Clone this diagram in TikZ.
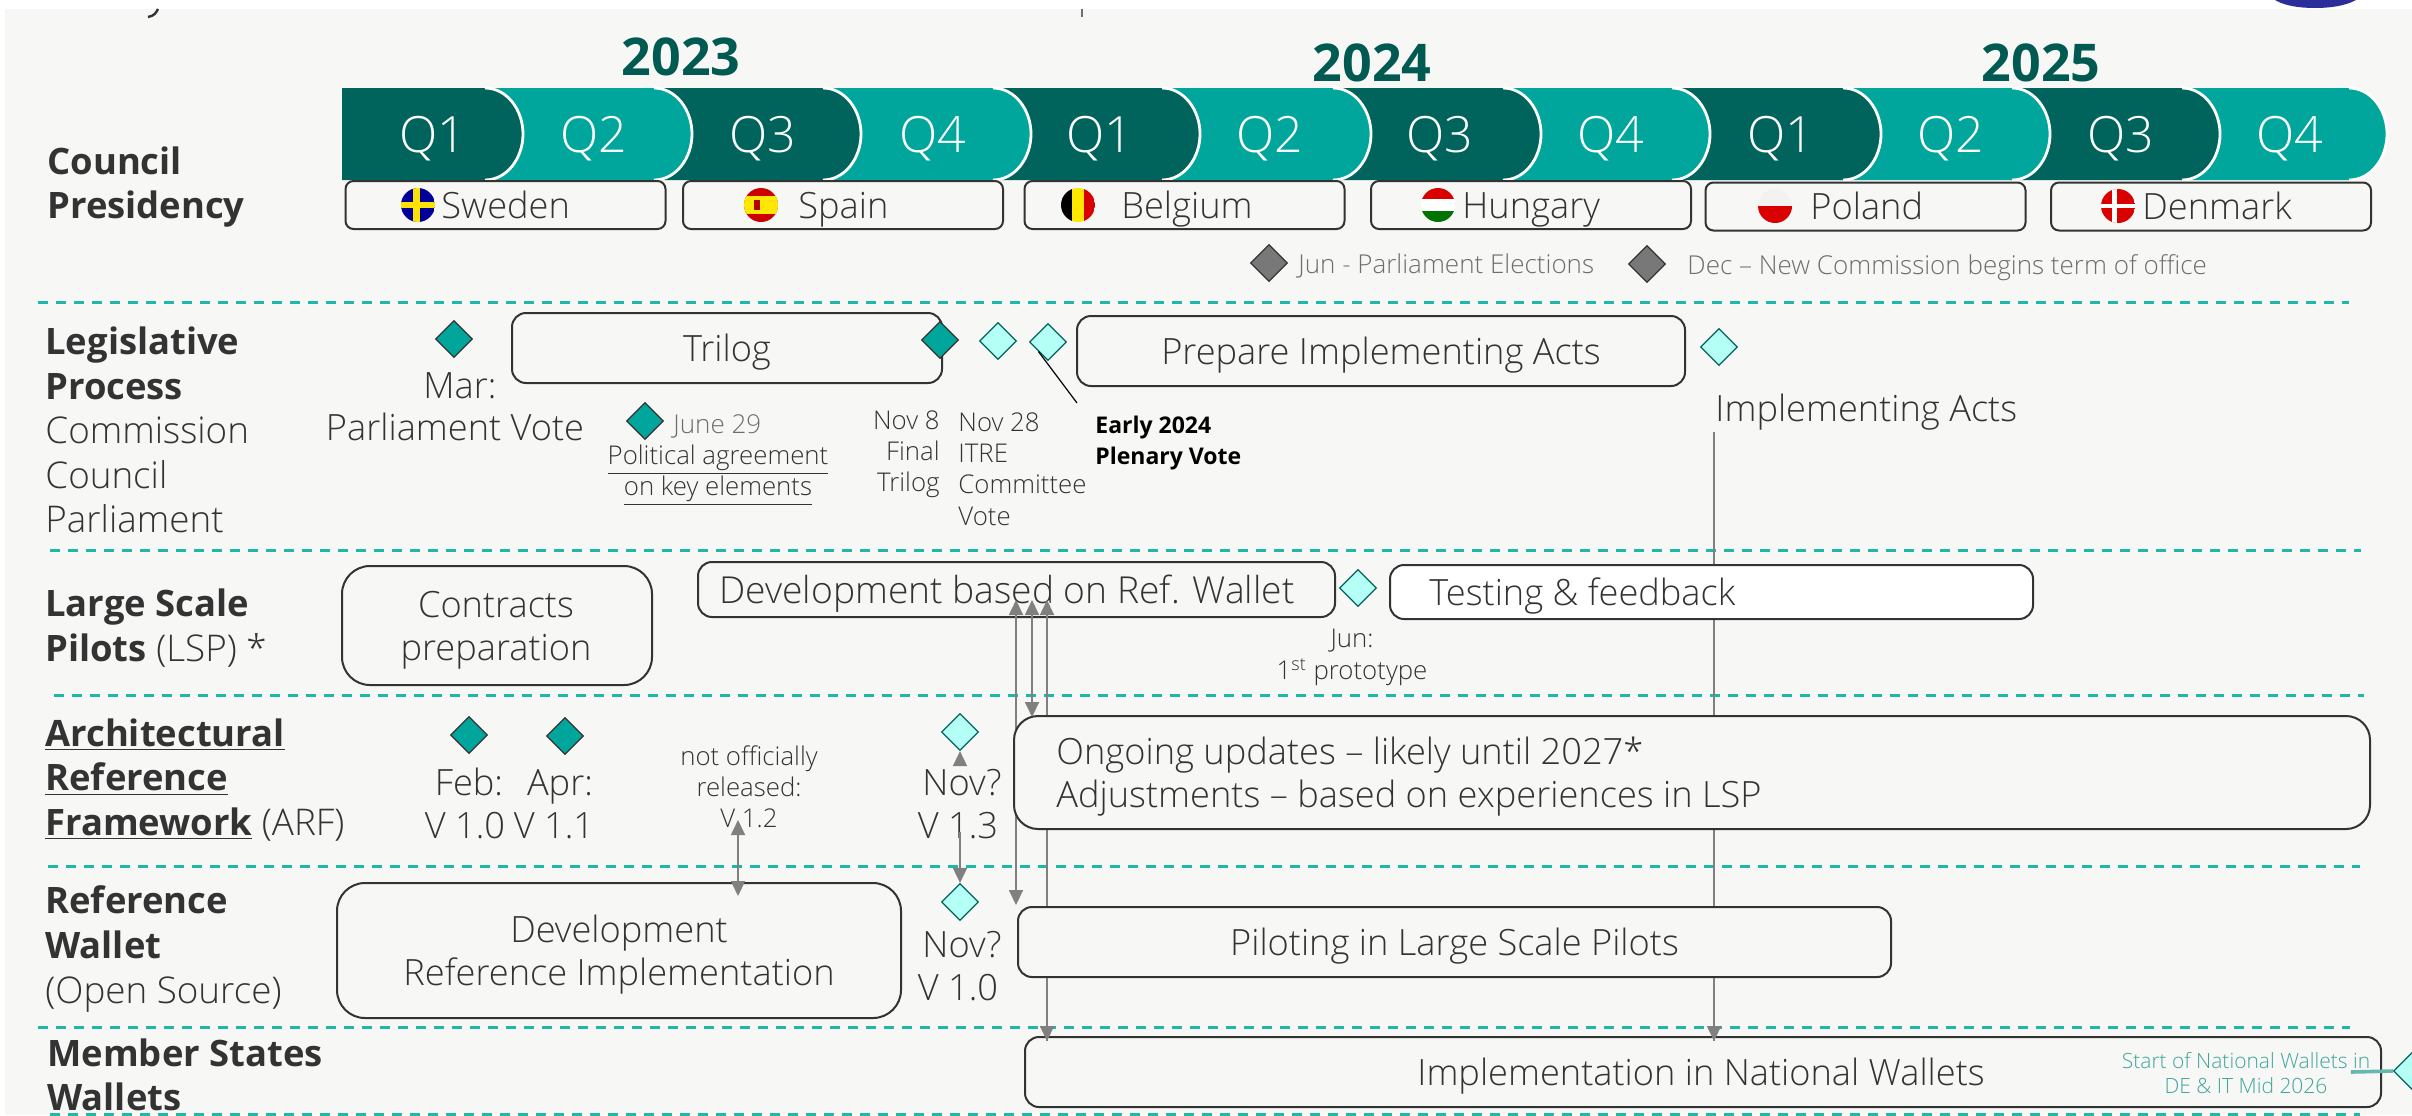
\documentclass[tikz,border=0pt]{standalone}
\usepackage{fontspec}
\setmainfont{Open Sans}
\newfontfamily\lightfont{Open Sans Light}
\usetikzlibrary{arrows.meta}
\usetikzlibrary{shapes.geometric}
\definecolor{pagebg}{HTML}{F7F7F5}
\definecolor{darkteal}{HTML}{00645C}
\definecolor{midteal}{HTML}{00A69C}
\definecolor{yearteal}{HTML}{005A52}
\definecolor{dashteal}{HTML}{1FB8A8}
\definecolor{paleteal}{HTML}{B4FFF6}
\definecolor{inkgray}{HTML}{333333}
\definecolor{softgray}{HTML}{6E6E6E}
\definecolor{markgray}{HTML}{787878}
\definecolor{linegray}{HTML}{808080}
\definecolor{notegreen}{HTML}{3FA69B}
\definecolor{logoblue}{HTML}{2B2E9A}
\newcommand{\rowlight}[1]{{\lightfont\fontsize{18.4}{22.3}\selectfont #1}}
\tikzset{
  rowlabel/.style={anchor=west,align=left,inner sep=0pt,text=inkgray,font=\fontsize{18.2}{22.3}\selectfont},
  bigtext/.style={inner sep=0pt,text=inkgray,text height=13pt,text depth=0pt,font=\lightfont\fontsize{18.1}{22}\selectfont},
  twolines/.style={inner sep=0pt,text=inkgray,align=center,font=\lightfont\fontsize{18.1}{21.5}\selectfont},
  smalltext/.style={inner sep=0pt,text=inkgray,align=center,font=\lightfont\fontsize{12.9}{15.6}\selectfont},
  softtext/.style={inner sep=0pt,text=softgray,text height=9.2pt,text depth=0pt,font=\lightfont\fontsize{13}{15.5}\selectfont},
  yearlabel/.style={inner sep=0pt,text=yearteal,font=\bfseries\fontsize{26}{30}\selectfont},
  quarter/.style={inner sep=0pt,text=white,text height=18.5pt,text depth=0pt,font=\lightfont\fontsize{25}{30}\selectfont},
  box/.style={draw=inkgray,line width=1pt,fill=pagebg,rounded corners=7pt,inner sep=0pt,align=center,text=inkgray,text height=13pt,text depth=0pt,font=\lightfont\fontsize{18.1}{22}\selectfont},
  countrybox/.style={box,rounded corners=4pt,minimum width=160pt,minimum height=24pt},
  milestone/.style={diamond,aspect=1,draw=inkgray,line width=.6pt,fill=midteal,inner sep=0pt,minimum width=18.5pt,minimum height=18.5pt},
  openmilestone/.style={milestone,fill=paleteal,draw=darkteal},
  graymilestone/.style={milestone,fill=markgray,draw=inkgray},
  sectionline/.style={draw=dashteal,line width=1.5pt,dash pattern=on 5pt off 4pt},
  grayarrow/.style={draw=linegray,line width=.9pt,-{Triangle[length=7.5pt,width=7pt]}},
  grayboth/.style={draw=linegray,line width=.9pt,{Triangle[length=7.5pt,width=7pt]}-{Triangle[length=7.5pt,width=7pt]}},
}
\begin{document}
\begin{tikzpicture}[x=.5pt,y=-.5pt]
  \useasboundingbox (0,0) rectangle (2412,1115);
  \fill[pagebg] (5,9) rectangle (2412,1115);
  \fill[white] (0,0) rectangle (2412,9);
  \fill[logoblue] (2275,0) .. controls (2285,6) and (2300,8) .. (2315,8) .. controls (2330,8) and (2345,6) .. (2356,0) -- cycle;
  \draw[inkgray,line width=1.2pt] (158,9) .. controls (156,13) and (154,16) .. (148,17);
  \draw[softgray,line width=1pt] (1082,9) -- (1082,17);

  \foreach \xl/\xr/\qtext/\qx/\qcol [count=\i] in {2180/2387/Q4/2290/midteal,2010/2220/Q3/2121/darkteal,1840/2050/Q2/1951/midteal,1670/1881/Q1/1781/darkteal,1500/1710/Q4/1611/midteal,1330/1541/Q3/1440/darkteal,1160/1371/Q2/1270/midteal,990/1200/Q1/1100/darkteal,820/1031/Q4/933/midteal,650/861/Q3/763/darkteal,480/692/Q2/594/midteal,342/523/Q1/433/darkteal} {
    \fill[\qcol] (\xl,88) -- ({\xr-38},88) .. controls ({\xr-16},88) and (\xr,110) .. (\xr,134) .. controls (\xr,158) and ({\xr-16},180) .. ({\xr-38},180) -- (\xl,180) -- cycle;
    \draw[white,line width=1.4pt] ({\xr-38},88) .. controls ({\xr-16},88) and (\xr,110) .. (\xr,134) .. controls (\xr,158) and ({\xr-16},180) .. ({\xr-38},180);
    \node[quarter] (q\i) at (\qx,134) {\qtext};
  }
  \node[yearlabel] (y2023) at (681,57) {2023};
  \node[yearlabel] (y2024) at (1372,63) {2024};
  \node[yearlabel] (y2025) at (2041,63) {2025};

  \node[countrybox] (sweden) at (505.5,205) {};
  \node[countrybox] (spain) at (843,205) {};
  \node[countrybox] (belgium) at (1184.5,205) {};
  \node[countrybox] (hungary) at (1531,205) {};
  \node[countrybox] (poland) at (1865.5,206.5) {};
  \node[countrybox] (denmark) at (2211,206.5) {};
  \begin{scope}[shift={(418,205)}]
    \clip (0,0) circle (17);
    \fill[blue!60!black] (-17,-17) rectangle (17,17);
    \fill[yellow!85!orange] (-5,-17) rectangle (2,17);
    \fill[yellow!85!orange] (-17,-3) rectangle (17,3);
  \end{scope}
  \begin{scope}[shift={(761,205)}]
    \clip (0,0) circle (17);
    \fill[red!80!black] (-17,-17) rectangle (17,17);
    \fill[yellow!90!orange] (-17,-9) rectangle (17,9);
    \fill[red!70!black] (-7,-5) rectangle (-1,5);
  \end{scope}
  \begin{scope}[shift={(1078,205)}]
    \clip (0,0) circle (17);
    \fill[black] (-17,-17) rectangle (-6,17);
    \fill[yellow!90!orange] (-6,-17) rectangle (6,17);
    \fill[red!85!black] (6,-17) rectangle (17,17);
  \end{scope}
  \begin{scope}[shift={(1438,205)}]
    \clip (0,0) circle (17);
    \fill[red!85!black] (-17,-17) rectangle (17,-6);
    \fill[white] (-17,-6) rectangle (17,6);
    \fill[green!45!black] (-17,6) rectangle (17,17);
  \end{scope}
  \begin{scope}[shift={(1775,206)}]
    \clip (0,0) circle (17);
    \fill[gray!10] (-17,-17) rectangle (17,0);
    \fill[red!85!black] (-17,0) rectangle (17,17);
  \end{scope}
  \begin{scope}[shift={(2118,206)}]
    \clip (0,0) circle (17);
    \fill[red!85!black] (-17,-17) rectangle (17,17);
    \fill[white] (-6,-17) rectangle (-1,17);
    \fill[white] (-17,-2) rectangle (17,2);
  \end{scope}
  \node[bigtext,anchor=west] (swedentext) at (441,205) {Sweden};
  \node[bigtext,anchor=west] (spaintext) at (798,205) {Spain};
  \node[bigtext,anchor=west] (belgiumtext) at (1121,205) {Belgium};
  \node[bigtext,anchor=west] (hungarytext) at (1462,205) {Hungary};
  \node[bigtext,anchor=west] (polandtext) at (1810,206) {Poland};
  \node[bigtext,anchor=west] (denmarktext) at (2142,206) {Denmark};

  \node[graymilestone] (elections) at (1269,263) {};
  \node[softtext,anchor=west] (electionstext) at (1298,264) {Jun - Parliament Elections};
  \node[graymilestone] (newcommission) at (1647,264) {};
  \node[softtext,anchor=west] (newcommissiontext) at (1687,265) {Dec – New Commission begins term of office};

  \draw[sectionline] (38,302) -- (2349,302);
  \draw[sectionline] (50,550) -- (2361,550);
  \draw[sectionline] (54,695) -- (2364,695);
  \draw[sectionline] (48,866) -- (2360,866);
  \draw[sectionline] (38,1027) -- (2350,1027);
  \draw[sectionline] (50,1114) -- (2360,1114);

  \node[rowlabel] (councillabel) at (47,187) {\textbf{Council}\\\textbf{Presidency}};
  \node[rowlabel] (legislativelabel) at (45,430) {\textbf{Legislative}\\\textbf{Process}\\\rowlight{Commission}\\\rowlight{Council}\\\rowlight{Parliament}};
  \node[rowlabel] (lsplabel) at (45,628) {\textbf{Large Scale}\\\textbf{Pilots} \rowlight{(LSP) *}};
  \node[rowlabel] (arflabel) at (45,780) {\underline{\textbf{Architectural}}\\\underline{\textbf{Reference}}\\\underline{\textbf{Framework}} \rowlight{(ARF)}};
  \node[rowlabel] (walletlabel) at (45,949) {\textbf{Reference}\\\textbf{Wallet}\\\rowlight{(Open Source)}};
  \node[rowlabel] (memberlabel) at (47,1075) {\textbf{Member States}\\\textbf{Wallets}};

  \node[box,minimum width=215pt,minimum height=35pt] (trilog) at (727,348) {Trilog};
  \node[box,minimum width=304pt,minimum height=35pt] (prepareacts) at (1381,351) {Prepare Implementing Acts};
  \node[box,rounded corners=14pt,minimum width=155pt,minimum height=59.5pt] (contracts) at (497,625.5) {};
  \node[twolines] (contractstext) at (496,630) {Contracts\\preparation};
  \node[box,minimum width=318.5pt,minimum height=27.5pt] (devwallet) at (1016.5,589.5) {};
  \node[bigtext,anchor=west,font=\lightfont\fontsize{18.6}{22}\selectfont] (devwallettext) at (719,590) {Development based on Ref. Wallet};
  \node[box,rounded corners=14pt,minimum width=282pt,minimum height=67.5pt] (devref) at (619,950.5) {};
  \node[twolines] (devreftext) at (619,955) {Development\\Reference Implementation};
  \node[box,minimum width=678pt,minimum height=35pt] (implementation) at (1703,1072) {};

  \coordinate (devtipa) at (1016,600);
  \coordinate (piloteend) at (1016,905);
  \coordinate (devtipc) at (1047,600);
  \coordinate (implend) at (1047,1041);
  \coordinate (actsline) at (1714,432);
  \coordinate (actsend) at (1714,1041);
  \draw[grayboth] (devtipa) -- (piloteend);
  \draw[grayarrow] (implend) -- (devtipc);
  \draw[draw=linegray,line width=.9pt] (actsline) -- (actsend);

  \node[box,fill=white,minimum width=321.5pt,minimum height=27pt] (testing) at (1711.5,592) {};
  \node[bigtext,anchor=west] (testingtext) at (1429,592) {Testing \& feedback};
  \node[box,rounded corners=12pt,minimum width=678pt,minimum height=56.5pt] (ongoing) at (1692,772.5) {};
  \node[twolines,anchor=west,align=left] (ongoingtext) at (1056,777) {Ongoing updates – likely until 2027*\\Adjustments – based on experiences in LSP};
  \node[box,minimum width=436.5pt,minimum height=35pt] (piloting) at (1454.5,942) {Piloting in Large Scale Pilots};

  \node[bigtext] (implementationtext) at (1701,1072) {Implementation in National Wallets};
  \draw[grayarrow] (piloting.south -| actsend) -- (actsend);
  \draw[grayarrow] (piloting.south -| implend) -- (implend);
  \coordinate (ongoingtip) at (1032,717);
  \coordinate (devtipb) at (1032,600);
  \draw[grayboth] (devtipb) -- (ongoingtip);

  \node[milestone] (marvote) at (454,339) {};
  \node[bigtext] (martext) at (460,385) {Mar:};
  \node[bigtext] (parliamentvote) at (455,427) {Parliament Vote};
  \node[milestone] (june) at (645,421) {};
  \node[softtext,anchor=west] (junetext) at (673,424) {June 29};
  \node[smalltext] (politicaltext) at (718,475) {\underline{Political agreement}\\\underline{on key elements}};
  \node[milestone] (finaltrilog) at (940,340) {};
  \node[smalltext,align=right,anchor=east] (finaltext) at (940,454) {Nov 8\\Final\\Trilog};
  \node[openmilestone] (itre) at (998,341) {};
  \node[smalltext,align=left,anchor=west] (itretext) at (958,469) {Nov 28\\ITRE\\Committee\\Vote};
  \node[openmilestone] (plenary) at (1048,342) {};
  \node[inner sep=0pt,align=left,anchor=west,font=\bfseries\fontsize{11.5}{15.5}\selectfont] (plenarytext) at (1095,443) {Early 2024\\Plenary Vote};
  \coordinate (plenaryend) at (1077,403);
  \draw[black,line width=.6pt] (plenary.south west) -- (plenaryend);
  \node[openmilestone] (acts) at (1719,347) {};
  \node[bigtext,anchor=west] (actstext) at (1715,408) {Implementing Acts};

  \node[openmilestone] (prototype) at (1358,588) {};
  \node[smalltext,font=\lightfont\fontsize{12.9}{16}\selectfont] (prototypetext) at (1352,657) {Jun:\\1\textsuperscript{st} prototype};

  \node[milestone] (feb) at (469,735) {};
  \node[milestone] (apr) at (565,736) {};
  \node[bigtext] (febtext) at (469,782) {Feb:};
  \node[bigtext] (aprtext) at (560,782) {Apr:};
  \node[bigtext] (vten) at (465,825) {V 1.0};
  \node[bigtext] (veleven) at (554,825) {V 1.1};
  \node[smalltext] (releasedtext) at (749,787) {not officially\\released:\\V 1.2};
  \node[openmilestone] (vthirteen) at (960,732) {};
  \node[bigtext] (nova) at (962,782) {Nov?};
  \node[bigtext] (vthirteentext) at (958,825) {V 1.3};
  \node[openmilestone] (vwallet) at (960,902) {};
  \node[bigtext] (novb) at (962,944) {Nov?};
  \node[bigtext] (vwallettext) at (958,987) {V 1.0};

  \coordinate (upstart) at (960,762);
  \coordinate (downstart) at (960,832);
  \coordinate (reltip) at (738,820);
  \coordinate (reftip) at (738,896);
  \draw[grayarrow] (upstart) -- (vthirteen.south);
  \draw[grayarrow] (downstart) -- (vwallet.north);
  \draw[grayboth] (reltip) -- (reftip);

  \node[inner sep=0pt,align=center,text=notegreen,font=\lightfont\fontsize{10.5}{12.5}\selectfont] (startnote) at (2246,1073) {Start of National Wallets in\\DE \& IT Mid 2026};
  \node[openmilestone] (start2026) at (2412,1071) {};
  \draw[notegreen!80!white,line width=1.8pt] (start2026.west) ++(-42,1) -- (start2026.west);
\end{tikzpicture}
\end{document}
